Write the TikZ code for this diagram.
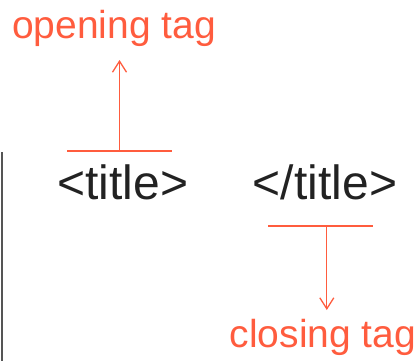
\documentclass[tikz,border=0pt]{standalone}
\usepackage{fontspec}
\setmainfont{Liberation Sans}
\usetikzlibrary{
	calc,
	arrows.meta,
}
\definecolor{tagred}{RGB}{255,92,62}
\definecolor{tagtext}{RGB}{34,34,34}
\definecolor{edgegray}{RGB}{85,85,85}

\begin{document}
\begin{tikzpicture}[
                    x=1pt, y=-1pt,
                    tag/.style={anchor=base, inner sep=0pt, text=tagtext, font=\fontsize{48}{50}\selectfont},
                    note/.style={anchor=base, inner sep=0pt, text=tagred, font=\fontsize{39}{42}\selectfont},
                    bar/.style={draw=tagred, line width=1.3pt},
                    pointer/.style={draw=tagred, line width=1.3pt, -{Straight Barb[length=11pt, width=14pt, line width=1.3pt]}},
                ]
\useasboundingbox (0,0) rectangle (419,361);
% margin line
\draw[edgegray, line width=1.5pt] (2,152) -- (2,361);
% tags
\node[tag] (open) at (123,199) {<title>};
\node[tag] (close) at (325,199) {</title>};
% labels
\node[note] (open-lbl) at (114,38) {opening tag};
\node[note] (close-lbl) at (323,347) {closing tag};
% bars and pointers
\coordinate (ob-l) at (67,151);
\coordinate (ob-r) at (172,151);
\coordinate (cb-l) at (268,226);
\coordinate (cb-r) at (373,226);
\coordinate (ob-m) at ($(ob-l)!.5!(ob-r)$);
\coordinate (cb-m) at ($(cb-l)!.56!(cb-r)$);
\coordinate (ob-tip) at (ob-m |- 0,60);
\coordinate (cb-tip) at (cb-m |- 0,310);
\draw[bar] (ob-l) -- (ob-r);
\draw[bar] (cb-l) -- (cb-r);
\draw[pointer] (ob-m) -- (ob-tip);
\draw[pointer] (cb-m) -- (cb-tip);
\end{tikzpicture}
\end{document}
